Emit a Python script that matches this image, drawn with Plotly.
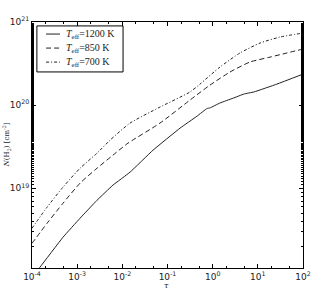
import plotly.graph_objects as go

# Teff = 1200 K (solid)
tau_1200 = [1.0e-4, 1.50e-4, 4.85e-4, 1.16e-3, 2.75e-3, 6.2e-3, 1.48e-2, 4.78e-2, 0.189, 0.45, 0.75, 0.87, 1.45, 2.82, 4.93, 8.2, 26.5, 100]
N_1200 = [8.5e17, 1.12e18, 2.57e18, 4.36e18, 7.16e18, 1.09e19, 1.56e19, 2.87e19, 5.28e19, 7.36e19, 9.1e19, 9.25e19, 1.06e20, 1.21e20, 1.36e20, 1.44e20, 1.79e20, 2.36e20]

# Teff = 850 K (dashed)
tau_850 = [1.0e-4, 2.15e-4, 4.85e-4, 1.16e-3, 2.75e-3, 6.2e-3, 1.33e-2, 6.8e-2, 0.315, 0.87, 2.42, 6.7, 18.6, 44.2, 100]
N_850 = [2.17e18, 3.78e18, 6.59e18, 1.15e19, 1.74e19, 2.50e19, 3.48e19, 6.07e19, 1.15e20, 1.74e20, 2.50e20, 3.30e20, 3.78e20, 4.24e20, 4.73e20]

# Teff = 700 K (dash-dot)
tau_700 = [1.0e-4, 2.15e-4, 4.85e-4, 1.16e-3, 2.75e-3, 5.33e-3, 1.48e-2, 6.8e-2, 0.315, 0.524, 1.45, 4.03, 11.2, 30.9, 100]
N_700 = [3.30e18, 5.90e18, 1.03e19, 1.74e19, 2.64e19, 3.78e19, 6.07e19, 9.46e19, 1.44e20, 1.79e20, 2.87e20, 4.24e20, 5.58e20, 6.59e20, 7.36e20]

x_tickvals = [1e-4, 1e-3, 1e-2, 1e-1, 1e0, 1e1, 1e2]
x_ticktext = ["10<sup>-4</sup>", "10<sup>-3</sup>", "10<sup>-2</sup>", "10<sup>-1</sup>",
              "10<sup>0</sup>", "10<sup>1</sup>", "10<sup>2</sup>"]
y_tickvals = [1e19, 1e20, 1e21]
y_ticktext = ["10<sup>19</sup>", "10<sup>20</sup>", "10<sup>21</sup>"]

names = ["<i>T</i><sub>eff</sub>=1200 K", "<i>T</i><sub>eff</sub>=850 K", "<i>T</i><sub>eff</sub>=700 K"]
dashes = ["solid", "5px,3px", "3px,2px,1px,2px"]
smooth = [0.3, 0.6, 0.6]
series = [(tau_1200, N_1200), (tau_850, N_850), (tau_700, N_700)]

LINE_COLOR = "#222"
fig = go.Figure()
for (xs, ys), nm, d, sm in zip(series, names, dashes, smooth):
    fig.add_trace(go.Scatter(x=xs, y=ys, mode="lines", name=nm, showlegend=False,
                             line=dict(color=LINE_COLOR, width=1, dash=d, shape="spline", smoothing=sm)))

axis_common = dict(
    showline=True, linecolor="black", linewidth=1, mirror="allticks",
    ticks="inside", ticklen=4, tickcolor="black", tickwidth=1,
    showgrid=False, zeroline=False, automargin=False,
    tickfont=dict(family="DejaVu Sans", size=9, color="#222"),
    minor=dict(ticks="inside", ticklen=2, tickcolor="black", showgrid=False),
)
fig.update_xaxes(type="log", range=[-4, 2], tickvals=x_tickvals, ticktext=x_ticktext, **axis_common)
fig.update_yaxes(type="log", range=[18.04, 21], tickvals=y_tickvals, ticktext=y_ticktext, **axis_common)

# axis titles
annotations = [
    dict(text="<i>τ</i>", xref="paper", yref="paper", x=0.498, y=-0.072, showarrow=False,
         xanchor="center", yanchor="middle", font=dict(family="DejaVu Serif", size=8, color="#222")),
    dict(text="<i>N</i>(H<sub>2</sub>) [cm<sup>-2</sup>]", xref="paper", yref="paper", x=-0.095, y=0.5,
         showarrow=False, textangle=-90, xanchor="center", yanchor="middle",
         font=dict(family="DejaVu Serif", size=7, color="#222")),
]

# custom legend (box, samples, labels) in paper coordinates
shapes = [dict(type="rect", xref="paper", yref="paper", x0=0.018, x1=0.336, y0=0.797, y1=0.984,
               line=dict(color="black", width=1), fillcolor="white", layer="above")]
row_y = [0.951, 0.894, 0.837]
for ry, nm, d in zip(row_y, names, dashes):
    shapes.append(dict(type="line", xref="paper", yref="paper", x0=0.052, x1=0.103, y0=ry, y1=ry,
                       line=dict(color=LINE_COLOR, width=1, dash=d), layer="above"))
    annotations.append(dict(text=nm, xref="paper", yref="paper", x=0.118, y=ry, showarrow=False,
                            xanchor="left", yanchor="middle",
                            font=dict(family="Liberation Serif", size=10, color="#222")))

fig.update_layout(
    width=328, height=291,
    margin=dict(l=32, r=25, t=22, b=23),
    paper_bgcolor="white", plot_bgcolor="white",
    showlegend=False,
    shapes=shapes, annotations=annotations,
)

# remove the default 8px page margin so the figure fills the window exactly
fig.write_html("out.html", config={"displayModeBar": False},
               post_script="document.body.style.margin='0';document.body.style.overflow='hidden';")
